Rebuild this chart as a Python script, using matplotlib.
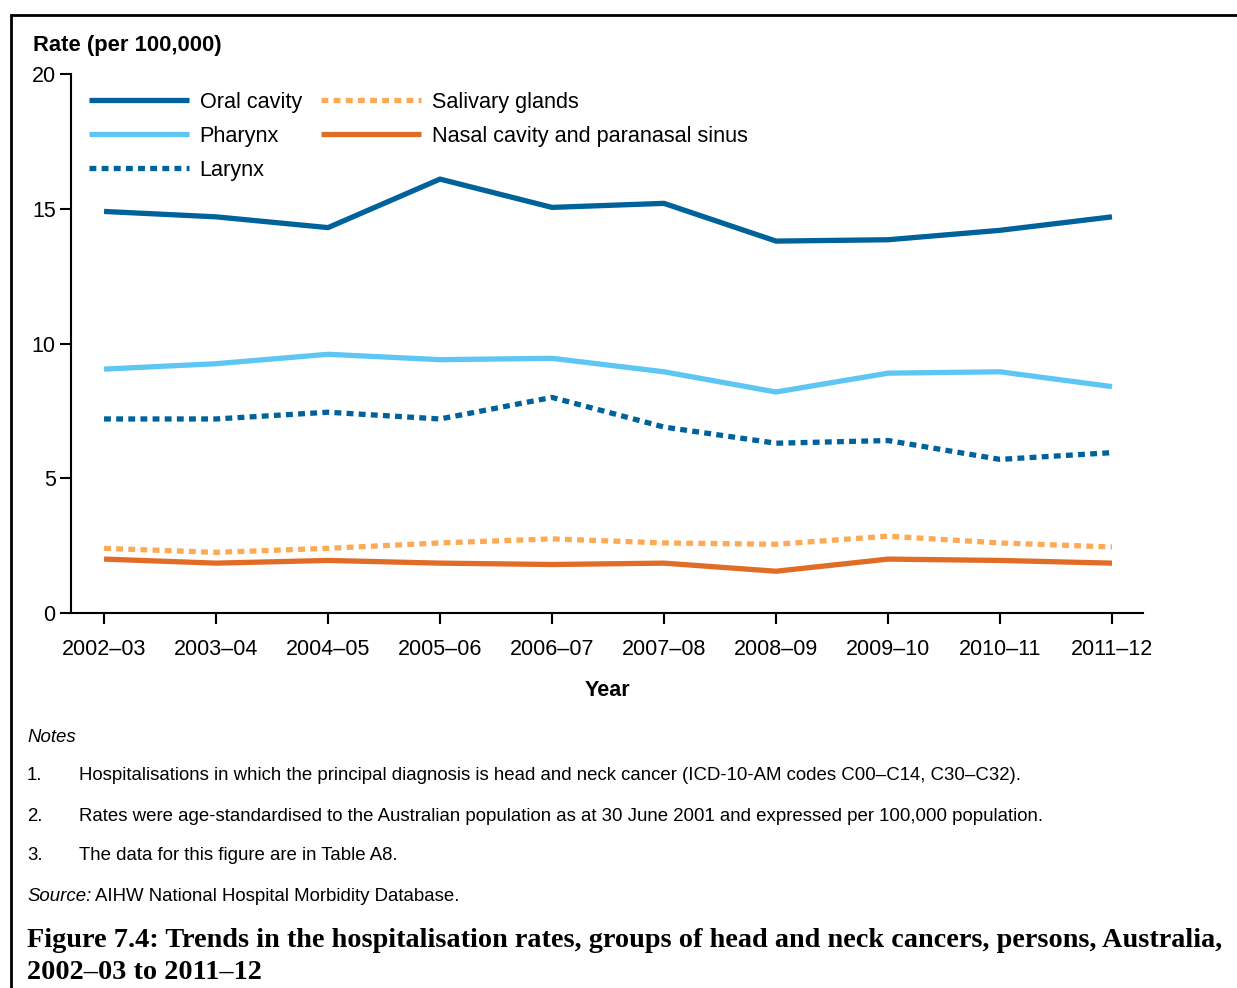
import numpy as np
import matplotlib.pyplot as plt
from matplotlib.patches import Rectangle

plt.rcParams['font.family'] = ['Liberation Sans', 'DejaVu Sans']

years = ['2002–03', '2003–04', '2004–05', '2005–06', '2006–07',
         '2007–08', '2008–09', '2009–10', '2010–11', '2011–12']
oral = [14.9, 14.7, 14.3, 16.1, 15.05, 15.2, 13.8, 13.85, 14.2, 14.7]
pharynx = [9.05, 9.25, 9.6, 9.4, 9.45, 8.95, 8.2, 8.9, 8.95, 8.4]
larynx = [7.2, 7.2, 7.45, 7.2, 8.0, 6.9, 6.3, 6.4, 5.7, 5.95]
salivary = [2.4, 2.25, 2.4, 2.6, 2.75, 2.6, 2.55, 2.85, 2.6, 2.45]
nasal = [2.0, 1.85, 1.95, 1.85, 1.8, 1.85, 1.55, 2.0, 1.95, 1.85]

W, H = 1237, 988
fig = plt.figure(figsize=(W / 100, H / 100), dpi=100)
ax = fig.add_axes([71 / W, 1 - 613 / H, (1143 - 71) / W, (613 - 74) / H])

x = np.arange(len(years))
lw = 3.8
dot = (0, (1.3, 1.0))
ax.plot(x, oral, color='#00629b', lw=lw, label='Oral cavity', solid_capstyle='butt')
ax.plot(x, pharynx, color='#5dc6f2', lw=lw, label='Pharynx', solid_capstyle='butt')
ax.plot(x, larynx, color='#00629b', lw=lw, ls=dot, label='Larynx', dash_capstyle='butt')
ax.plot(x, salivary, color='#fdaa55', lw=lw, ls=dot, label='Salivary glands', dash_capstyle='butt')
ax.plot(x, nasal, color='#e06c26', lw=lw, label='Nasal cavity and paranasal sinus', solid_capstyle='butt')

ax.set_xlim(-0.295, 9.277)
ax.set_ylim(0, 20)
ax.set_yticks([0, 5, 10, 15, 20])
ax.set_xticks(x)
ax.set_xticklabels(years)
for s in ['top', 'right']:
    ax.spines[s].set_visible(False)
for s in ['left', 'bottom']:
    ax.spines[s].set_linewidth(1.5)
ax.tick_params(axis='both', labelsize=15.5, width=1.5, length=8, direction='out')
ax.tick_params(axis='x', pad=11)
ax.tick_params(axis='y', pad=3)

ax.set_xlabel('Year', fontsize=15.5, fontweight='bold', labelpad=14)
fig.text(33 / W, 1 - 46 / H, 'Rate (per 100,000)', fontsize=15.8, fontweight='bold', va='center')

ax.legend(ncol=2, loc='upper left', bbox_to_anchor=(89 / W, 1 - 92 / H),
          bbox_transform=fig.transFigure, frameon=False, fontsize=15.6,
          handlelength=4.6, handletextpad=0.5, columnspacing=0.9,
          labelspacing=0.6, borderpad=0, borderaxespad=0)

fs = 13.4
fig.text(27 / W, 1 - 737 / H, 'Notes', fontsize=fs, style='italic', va='center')
notes = ['Hospitalisations in which the principal diagnosis is head and neck cancer (ICD-10-AM codes C00–C14, C30–C32).',
         'Rates were age-standardised to the Australian population as at 30 June 2001 and expressed per 100,000 population.',
         'The data for this figure are in Table A8.']
for i, n in enumerate(notes):
    yy = 1 - (776 + 40 * i) / H
    fig.text(27 / W, yy, f'{i + 1}.', fontsize=fs, va='center')
    fig.text(79 / W, yy, n, fontsize=fs, va='center')
src = fig.text(27 / W, 1 - 896 / H, 'Source:', fontsize=fs, style='italic', va='center')
fig.canvas.draw()
bb = src.get_window_extent()
fig.text((bb.x1 + 4) / W, 1 - 896 / H, 'AIHW National Hospital Morbidity Database.', fontsize=fs, va='center')

fig.text(27 / W, 1 - 940 / H,
         'Figure 7.4: Trends in the hospitalisation rates, groups of head and neck cancers, persons, Australia,',
         fontsize=20.3, fontweight='bold', family='Liberation Serif', va='center')
fig.text(27 / W, 1 - 972 / H, '2002–03 to 2011–12',
         fontsize=20.3, fontweight='bold', family='Liberation Serif', va='center')

fig.add_artist(Rectangle((11 / W, -0.1), 2, 1.1 - 15 / H, transform=fig.transFigure,
                         fill=False, lw=2, edgecolor='black'))

fig.savefig('out.png', dpi=100)
